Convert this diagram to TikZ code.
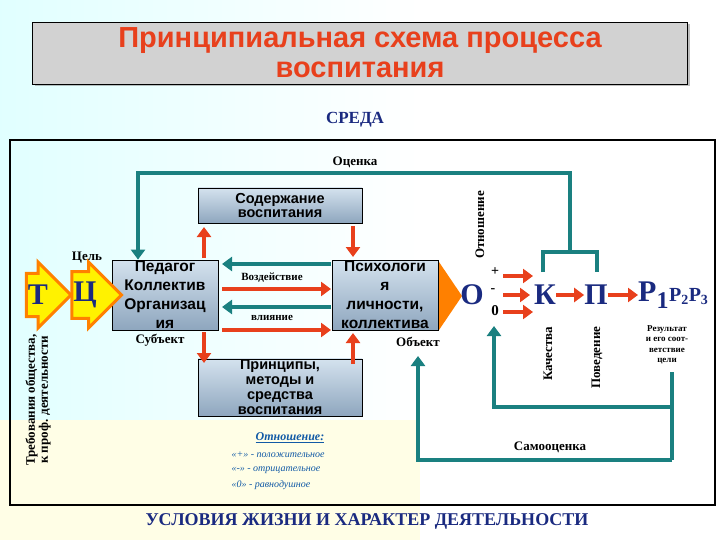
\documentclass[tikz,border=0pt]{standalone}
\usepackage{fontspec}
\setmainfont{Liberation Serif}
\newfontfamily\sansf{Liberation Sans}
\usetikzlibrary{arrows.meta,shapes.arrows,shadows}
\definecolor{teal}{HTML}{1A8080}
\definecolor{redd}{HTML}{E8401C}
\definecolor{dblue}{HTML}{1A2A80}
\definecolor{boxt}{HTML}{D4E2EE}
\definecolor{boxb}{HTML}{8EA6BE}
\begin{document}
\begin{tikzpicture}[x=1pt,y=-1pt,
  box/.style={draw=black,line width=0.8pt,top color=boxt,bottom color=boxb,align=center,font=\sansf\bfseries\fontsize{14.5}{14.5}\selectfont,inner sep=1pt},
  tl/.style={teal,line width=4pt},
  ta/.style={teal,line width=4pt,-{Triangle[length=10pt,width=14pt]}},
  ra/.style={redd,line width=4pt,-{Triangle[length=10pt,width=14pt]}},
  lab/.style={font=\bfseries\fontsize{13}{13}\selectfont},
  big/.style={font=\bfseries\fontsize{30}{30}\selectfont,text=dblue,inner sep=0pt},
  yarr/.style={single arrow,draw=orange,line width=3pt,fill=yellow,single arrow head extend=6pt,minimum height=44pt,minimum width=66pt,inner sep=0pt,font=\bfseries\fontsize{30}{30}\selectfont,text=dblue}]
\useasboundingbox (0,0) rectangle (720,540);
\fill[left color=cyan!12,right color=white] (0,0) rectangle (420,540);
\fill[white] (420,0) rectangle (720,540);
\fill[yellow!10] (0,420) rectangle (420,540);
% title
\node[draw=black,fill=gray!35,drop shadow,minimum width=655pt,minimum height=62pt,align=center,font=\sansf\bfseries\fontsize{29}{30}\selectfont,text=redd,inner sep=1pt] (title) at (360,53) {Принципиальная схема процесса\\воспитания};
\node[font=\bfseries\fontsize{17}{17}\selectfont,text=dblue] (sreda) at (355,120) {СРЕДА};
\draw[line width=1.5pt] (10,140) rectangle (715,505);
\node[lab] (ocenka) at (355,162) {Оценка};
% boxes
\node[box,minimum width=164pt,minimum height=35pt] (sod) at (280,205.5) {Содержание\\воспитания};
\node[box,minimum width=106pt,minimum height=70pt,font=\sansf\bfseries\fontsize{15.5}{19}\selectfont] (ped) at (165,295) {Педагог\\Коллектив\\Организац\\ия};
\node[box,minimum width=106pt,minimum height=70pt,font=\sansf\bfseries\fontsize{15.5}{19}\selectfont] (psy) at (385,295) {Психологи\\я\\личности,\\коллектива};
\node[box,minimum width=164pt,minimum height=41pt,font=\sansf\bfseries\fontsize{14.5}{15}\selectfont] (pri) at (280,387.5) {Принципы,\\методы и\\средства\\воспитания};
\node[lab] (cel) at (87,258) {Цель};
\node[lab] (subj) at (160,340) {Субъект};
\node[lab] (obj) at (418,342) {Объект};
\node[yarr] (T) at (38,295) {Т};
\node[yarr] (C) at (85,295) {Ц};
\node[rotate=90,align=center,font=\bfseries\fontsize{13}{13}\selectfont] (treb) at (38,400) {Требования общества,\\к проф. деятельности};
% vertical arrows
\draw[ra] (204,258) -- (204,227);
\draw[ra] (353,226) -- (353,257);
\draw[ra] (204,332) -- (204,363);
\draw[ra] (353,364) -- (353,333);
% horizontal arrows
\draw[ta] (331,264) -- (222,264);
\draw[ra] (222,289) -- (331,289);
\draw[ta] (331,307) -- (222,307);
\draw[ra] (222,330) -- (331,330);
\node[font=\bfseries\fontsize{11}{11}\selectfont] (voz) at (272,278) {Воздействие};
\node[font=\bfseries\fontsize{11}{11}\selectfont] (vli) at (272,318) {влияние};
% big orange arrow
\fill[orange] (439,262) -- (462,296) -- (439,330) -- cycle;
% O K P
\node[big] (O) at (472,295) {О};
\node[font=\bfseries\fontsize{14}{14}\selectfont,inner sep=0pt] (plus) at (495,272) {+};
\node[font=\bfseries\fontsize{14}{14}\selectfont,inner sep=0pt] (minus) at (493,291) {-};
\node[font=\bfseries\fontsize{15}{15}\selectfont,inner sep=0pt] (zero) at (495,311) {0};
\node[rotate=90,lab] (otn) at (480,225) {Отношение};
\node[big] (K) at (545,295) {К};
\node[big] (P) at (596,295) {П};
\node[big,anchor=west] (R) at (638,295) {Р\textsubscript{\fontsize{24}{24}\selectfont 1}{\fontsize{20}{20}\selectfont Р\textsubscript{2}Р\textsubscript{3}}};
\draw[ra] (503,276) -- (533,276);
\draw[ra] (503,295) -- (530,295);
\draw[ra] (503,312) -- (533,312);
\draw[ra] (K) -- (P);
\draw[ra] (P) -- (R);
\node[rotate=90,lab,anchor=east] (kach) at (548,323) {Качества};
\node[rotate=90,lab,anchor=east] (pov) at (597,323) {Поведение};
\node[align=center,font=\bfseries\fontsize{9}{10.5}\selectfont] (rez) at (667,345) {Результат\\и его соот-\\ветствие\\цели};
% teal feedback lines
\draw[tl] (543,272) -- (543,252) -- (597,252) -- (597,272);
\draw[ta] (570,252) -- (570,173) -- (138,173) -- (ped.north -| 138,0);
\draw[tl] (672,372) -- (672,460);
\draw[ta] (672,460) -- (418,460) -- (418,356);
\draw[ta] (672,407) -- (494,407) -- (494,326);
\node[lab] (samo) at (550,447) {Самооценка};
% legend
\node[font=\bfseries\itshape\fontsize{12}{12}\selectfont,text=teal!70!blue] (leg) at (290,438) {\underline{Отношение:}};
\node[anchor=west,font=\itshape\fontsize{10}{10}\selectfont,text=teal!70!blue] (l1) at (228,455) {«+» - положительное};
\node[anchor=west,font=\itshape\fontsize{10}{10}\selectfont,text=teal!70!blue] (l2) at (228,470) {«-» - отрицательное};
\node[anchor=west,font=\itshape\fontsize{10}{10}\selectfont,text=teal!70!blue] (l3) at (228,485) {«0» - равнодушное};
\node[font=\bfseries\fontsize{18}{18}\selectfont,text=dblue] (usl) at (367,521) {УСЛОВИЯ ЖИЗНИ И ХАРАКТЕР ДЕЯТЕЛЬНОСТИ};
\end{tikzpicture}
\end{document}
